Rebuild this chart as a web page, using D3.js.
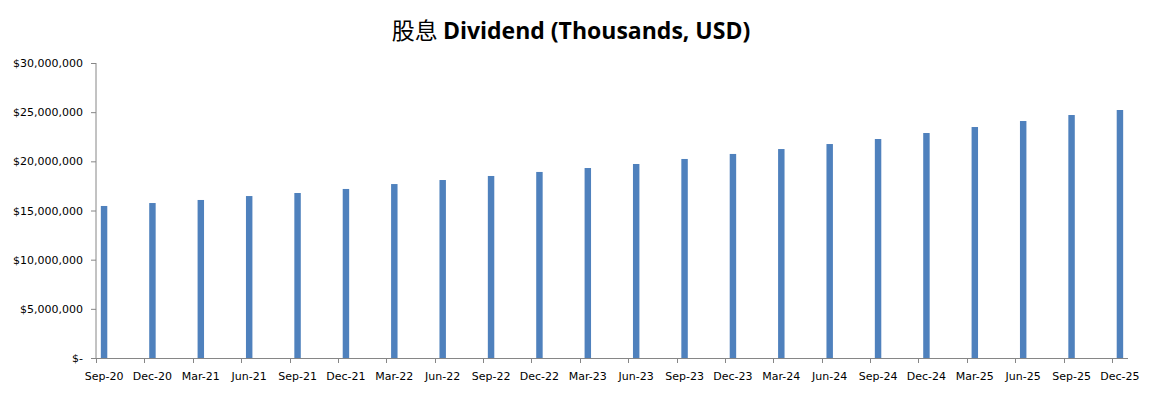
<!DOCTYPE html>
<html>
<head>
<meta charset="utf-8">
<script src="https://cdn.jsdelivr.net/npm/d3@7"></script>
<style>
  body { margin: 0; background: #fff; }
  text { font-family: "DejaVu Sans", sans-serif; }
</style>
</head>
<body>
<div id="chart"></div>
<script>
// quarterly dividends (thousands, USD)
const quarters = ['Sep-20','Dec-20','Mar-21','Jun-21','Sep-21','Dec-21','Mar-22','Jun-22',
  'Sep-22','Dec-22','Mar-23','Jun-23','Sep-23','Dec-23','Mar-24','Jun-24',
  'Sep-24','Dec-24','Mar-25','Jun-25','Sep-25','Dec-25'];
const dividends = [15460000, 15760000, 16070000, 16470000, 16780000, 17190000, 17690000, 18100000,
  18510000, 18920000, 19320000, 19730000, 20240000, 20750000, 21250000, 21760000,
  22270000, 22880000, 23490000, 24100000, 24710000, 25220000];
const yTicks = [0, 5000000, 10000000, 15000000, 20000000, 25000000, 30000000];

const width = 1151, height = 397;
const margin = {top: 63, right: 23, bottom: 39, left: 96};

const svg = d3.select('#chart').append('svg')
  .attr('width', width)
  .attr('height', height);

// title
const title = svg.append('text')
  .attr('x', 571)
  .attr('y', 39)
  .attr('text-anchor', 'middle')
  .style('font-size', '23px')
  .attr('fill', '#000');
title.append('tspan')
  .style('font-family', '"Noto Sans CJK SC", sans-serif')
  .style('font-weight', 'normal')
  .text('股息 ');
title.append('tspan')
  .style('font-family', '"Open Sans", sans-serif')
  .style('font-weight', 'bold')
  .text('Dividend (Thousands, USD)');

// date axis in months, Sep-20 .. Dec-25
const nMonths = (quarters.length - 1) * 3 + 1;
const x = d3.scaleBand()
  .domain(d3.range(nMonths))
  .range([margin.left, width - margin.right])
  .paddingInner(0.6)
  .paddingOuter(0.3);
const slot = (width - margin.left - margin.right) / nMonths;
const monthStart = m => margin.left + m * slot;

const y = d3.scaleLinear()
  .domain([0, 30000000])
  .range([height - margin.bottom, margin.top]);

const fmt = v => v === 0 ? '$-' : '$' + d3.format(',')(v);

const yAxis = svg.append('g')
  .attr('transform', 'translate(' + margin.left + ',0)')
  .call(d3.axisLeft(y).tickValues(yTicks).tickSize(5).tickPadding(8).tickFormat(fmt));
yAxis.selectAll('line, path').attr('stroke', '#868686');
yAxis.select('.domain').attr('d', 'M0,' + y(30000000) + 'V' + y(0));
yAxis.selectAll('text').style('font-size', '11px').attr('fill', '#000')
  .style('font-family', '"DejaVu Sans", sans-serif');

// bars
svg.append('g').selectAll('rect')
  .data(dividends)
  .enter()
  .append('rect')
  .attr('x', (d, i) => x(i * 3))
  .attr('width', x.bandwidth())
  .attr('y', d => y(d))
  .attr('height', d => y(0) - y(d))
  .attr('fill', '#4F81BD');

// x axis
const base = y(0);
const xg = svg.append('g');
xg.append('line')
  .attr('x1', margin.left).attr('x2', width - margin.right)
  .attr('y1', base + 0.5).attr('y2', base + 0.5)
  .attr('stroke', '#868686');
xg.selectAll('line.tick')
  .data(quarters)
  .enter()
  .append('line')
  .attr('class', 'tick')
  .attr('x1', (d, i) => Math.round(monthStart(i * 3)) + 0.5)
  .attr('x2', (d, i) => Math.round(monthStart(i * 3)) + 0.5)
  .attr('y1', base).attr('y2', base + 5)
  .attr('stroke', '#868686');
xg.selectAll('text')
  .data(quarters)
  .enter()
  .append('text')
  .attr('x', (d, i) => x(i * 3) + x.bandwidth() / 2)
  .attr('y', base + 22)
  .attr('text-anchor', 'middle')
  .style('font-size', '11px')
  .attr('fill', '#000')
  .text(d => d);
</script>
</body>
</html>
